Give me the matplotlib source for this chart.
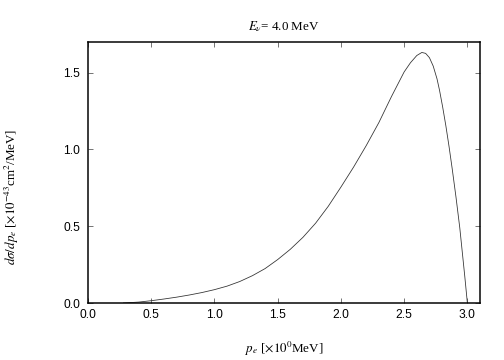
import matplotlib
matplotlib.use("Agg")
import matplotlib.pyplot as plt

# values
p_e = [0.28, 0.40, 0.50, 0.60, 0.70, 0.80, 0.90, 1.00, 1.10, 1.20, 1.30,
       1.40, 1.50, 1.60, 1.70, 1.80, 1.90, 2.00, 2.10, 2.20, 2.30, 2.40,
       2.50, 2.55, 2.60, 2.64, 2.67, 2.70, 2.73, 2.76, 2.78, 2.805, 2.83,
       2.855, 2.88, 2.91, 2.94, 2.96, 2.98, 3.00]
dsigma = [0.000, 0.006, 0.015, 0.026, 0.038, 0.052, 0.068, 0.087, 0.110,
          0.140, 0.178, 0.224, 0.283, 0.350, 0.428, 0.520, 0.630, 0.755,
          0.885, 1.025, 1.175, 1.345, 1.505, 1.565, 1.612, 1.632, 1.626,
          1.598, 1.543, 1.460, 1.385, 1.275, 1.154, 1.020, 0.875, 0.690,
          0.490, 0.330, 0.170, 0.000]
xticks = [0.0, 0.5, 1.0, 1.5, 2.0, 2.5, 3.0]
yticks = [0.0, 0.5, 1.0, 1.5]

plt.rcParams['mathtext.fontset'] = 'stix'
serif = 'Liberation Serif'

fig = plt.figure(figsize=(7, 5), dpi=72)
ax = fig.add_axes([0.1746, 0.1583, 0.7778, 0.725])

ax.plot(p_e, dsigma, color='#333333', linewidth=0.8)

ax.set_xlim(0, 3.1)
ax.set_ylim(0, 1.7)
ax.set_xticks(xticks)
ax.set_yticks(yticks)
ax.set_xticklabels([f'{v:.1f}' for v in xticks], family='Liberation Sans', fontsize=12)
ax.set_yticklabels([f'{v:.1f}' for v in yticks], family='Liberation Sans', fontsize=12)
ax.tick_params(direction='in', top=True, right=True, length=5, width=0.8,
               color='#555555')
ax.tick_params(axis='x', pad=6)
ax.tick_params(axis='y', pad=8)
for s in ax.spines.values():
    s.set_linewidth(1.5)

ax.set_title(r'$E_\nu$= 4.0 MeV', family=serif, fontsize=13, pad=12)
ax.set_xlabel(r'$p_e$ [$\times10^0$MeV]', family=serif, fontsize=13)
ax.xaxis.set_label_coords(0.5, -0.142)
ax.set_ylabel(r'$d\sigma/dp_e$ [$\times10^{-43}$cm$^2$/MeV]', family=serif, fontsize=13)
ax.yaxis.set_label_coords(-0.17, 0.406)

fig.savefig('out.png', dpi=72)
